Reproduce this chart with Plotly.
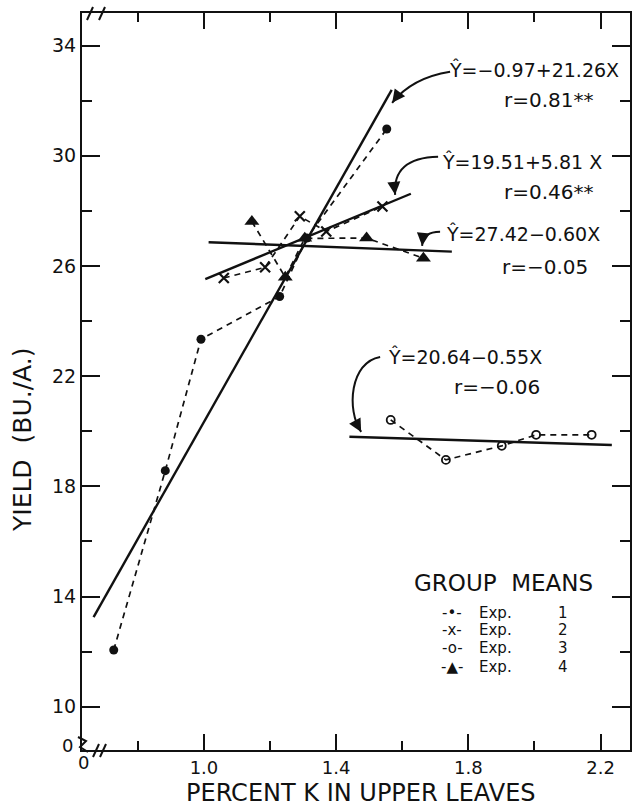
import plotly.graph_objects as go

# ---------------- data ----------------
exp1_k = [0.727, 0.883, 0.991, 1.229, 1.311, 1.553]
exp1_yield = [12.06, 18.57, 23.34, 24.89, 27.01, 30.97]

exp2_k = [1.06, 1.185, 1.29, 1.37, 1.54]
exp2_yield = [25.56, 25.95, 27.80, 27.25, 28.16]

exp3_k = [1.565, 1.732, 1.901, 2.005, 2.173]
exp3_yield = [20.41, 18.96, 19.47, 19.87, 19.87]

exp4_k = [1.145, 1.246, 1.305, 1.492, 1.664]
exp4_yield = [27.61, 25.59, 27.00, 27.01, 26.28]

# fitted regression lines (end points as drawn)
fit1_k = [0.666, 1.568]
fit1_yield = [13.25, 32.39]
fit2_k = [1.004, 1.626]
fit2_yield = [25.52, 28.62]
fit3_k = [1.44, 2.234]
fit3_yield = [19.80, 19.50]
fit4_k = [1.014, 1.75]
fit4_yield = [26.86, 26.52]

equations = ["Ŷ=−0.97+21.26X", "Ŷ=19.51+5.81 X", "Ŷ=20.64−0.55X", "Ŷ=27.42−0.60X"]
r_values = ["r=0.81**", "r=0.46**", "r=−0.06", "r=−0.05"]
legend_symbols = ["-•-", "-x-", "-o-", "-▲-"]
legend_numbers = ["1", "2", "3", "4"]

x_range = [0.631, 2.289]
y_range = [8.43, 35.18]

FONT = "DejaVu Sans"
BLACK = "#111111"

fig = go.Figure()

# regression lines
for fk, fy in [(fit1_k, fit1_yield), (fit2_k, fit2_yield), (fit3_k, fit3_yield), (fit4_k, fit4_yield)]:
    fig.add_trace(go.Scatter(x=fk, y=fy, mode="lines",
                             line=dict(color=BLACK, width=2.4), showlegend=False, hoverinfo="skip"))

dash = "6px,5px"
fig.add_trace(go.Scatter(x=exp1_k, y=exp1_yield, mode="lines+markers", name="Exp. 1",
                         line=dict(color=BLACK, width=1.7, dash=dash),
                         marker=dict(symbol="circle", size=9, color=BLACK)))
fig.add_trace(go.Scatter(x=exp2_k, y=exp2_yield, mode="lines+markers", name="Exp. 2",
                         line=dict(color=BLACK, width=1.7, dash=dash),
                         marker=dict(symbol="x-thin", size=10, line=dict(color=BLACK, width=2.2))))
fig.add_trace(go.Scatter(x=exp3_k, y=exp3_yield, mode="lines+markers", name="Exp. 3",
                         line=dict(color=BLACK, width=1.7, dash=dash),
                         marker=dict(symbol="circle-open", size=8, color=BLACK, line=dict(width=1.8, color=BLACK))))
fig.add_trace(go.Scatter(x=exp4_k, y=exp4_yield, mode="lines+markers", name="Exp. 4",
                         line=dict(color=BLACK, width=1.7, dash=dash),
                         marker=dict(symbol="triangle-up", size=13, color=BLACK)))

annotations = []
shapes = []

# equation texts
eq_pos = [(1.7357, 33.12), (1.7144, 29.78), (1.5512, 22.70), (1.7265, 27.16)]
r_pos = [(1.901, 32.03), (1.901, 28.69), (1.7507, 21.61), (1.8958, 25.97)]
for txt, (x, y) in zip(equations, eq_pos):
    annotations.append(dict(x=x, y=y, text=txt, showarrow=False, xanchor="left", yanchor="middle",
                            font=dict(family=FONT, size=19, color=BLACK)))
for txt, (x, y) in zip(r_values, r_pos):
    annotations.append(dict(x=x, y=y, text=txt, showarrow=False, xanchor="left", yanchor="middle",
                            font=dict(family=FONT, size=20, color=BLACK)))

# curved arrows (paths) + heads
curves = [
    ("M 1.7447,33.046 Q 1.6298,32.829 1.5693,31.921", (1.5693, 31.921), (6, -8)),
    ("M 1.7084,29.960 Q 1.5693,29.924 1.5784,28.580", (1.5784, 28.580), (-1, -10)),
    ("M 1.7144,27.237 Q 1.6630,27.237 1.6600,26.728", (1.6600, 26.728), (1, -10)),
    ("M 1.5330,22.698 C 1.4423,22.516 1.4302,20.773 1.4756,19.975", (1.4756, 19.975), (-5, -9)),
]
for path, (hx, hy), (ax, ay) in curves:
    shapes.append(dict(type="path", path=path, xref="x", yref="y",
                       line=dict(color=BLACK, width=2)))
    annotations.append(dict(x=hx, y=hy, ax=ax, ay=ay, text="", showarrow=True,
                            arrowhead=2, arrowsize=1.3, arrowwidth=2, arrowcolor=BLACK, standoff=0))

# legend block
annotations.append(dict(x=1.9062, y=14.49, text="GROUP  MEANS", showarrow=False,
                        xanchor="center", yanchor="middle", font=dict(family=FONT, size=23, color=BLACK)))
legend_rows_y = [13.40, 12.785, 12.13, 11.44]
for sym, num, yy in zip(legend_symbols, legend_numbers, legend_rows_y):
    annotations.append(dict(x=1.7507, y=yy, text=sym, showarrow=False, xanchor="center", yanchor="middle",
                            font=dict(family=FONT, size=15, color=BLACK)))
    annotations.append(dict(x=1.8263, y=yy, text="Exp.", showarrow=False, xanchor="left", yanchor="middle",
                            font=dict(family=FONT, size=15, color=BLACK)))
    annotations.append(dict(x=2.0863, y=yy, text=num, showarrow=False, xanchor="center", yanchor="middle",
                            font=dict(family=FONT, size=15, color=BLACK)))

# pixel helpers for decorations
L, T, W, H = 82, 13, 548, 737
def px(p):
    return (p - L) / W
def py(p):
    return (T + H - p) / H

# axis-break "0" labels
annotations.append(dict(xref="paper", yref="paper", x=px(67), y=py(745), text="0", showarrow=False,
                        xanchor="center", yanchor="middle", font=dict(family=FONT, size=18, color=BLACK)))
annotations.append(dict(xref="paper", yref="paper", x=px(83), y=py(762), text="0", showarrow=False,
                        xanchor="center", yanchor="middle", font=dict(family=FONT, size=18, color=BLACK)))

# axis titles as annotations (fixed placement)
annotations.append(dict(xref="paper", yref="paper", x=px(361), y=py(793), text="PERCENT K IN UPPER LEAVES",
                        showarrow=False, xanchor="center", yanchor="middle",
                        font=dict(family=FONT, size=24, color=BLACK)))
annotations.append(dict(xref="paper", yref="paper", x=px(22), y=py(440), text="YIELD  (BU./A.)",
                        showarrow=False, xanchor="center", yanchor="middle", textangle=-90,
                        font=dict(family=FONT, size=25, color=BLACK)))

# break marks
for x0 in (90, 102):
    shapes.append(dict(type="line", xref="paper", yref="paper", x0=px(x0 - 3), y0=py(20), x1=px(x0 + 3), y1=py(7),
                       line=dict(color=BLACK, width=2)))
for x0 in (96, 103):
    shapes.append(dict(type="line", xref="paper", yref="paper", x0=px(x0 - 3), y0=py(757), x1=px(x0 + 3), y1=py(744),
                       line=dict(color=BLACK, width=2)))
shapes.append(dict(type="path", xref="paper", yref="paper",
                   path=f"M {px(78)},{py(737)} L {px(86)},{py(741)} L {px(80)},{py(747)} L {px(88)},{py(752)}",
                   line=dict(color=BLACK, width=2)))

fig.update_layout(
    width=632, height=808,
    margin=dict(l=L, r=632 - L - W, t=T, b=808 - T - H, autoexpand=False),
    paper_bgcolor="white", plot_bgcolor="white",
    showlegend=False,
    font=dict(family=FONT, color=BLACK),
    annotations=annotations, shapes=shapes,
    xaxis=dict(range=x_range, showgrid=False, zeroline=False, showline=True, linecolor=BLACK, linewidth=2,
               mirror="ticks", ticks="inside", ticklen=16, tickwidth=2, tickcolor=BLACK,
               tick0=1.0, dtick=0.4, tickformat=".1f", automargin=False, ticklabelstandoff=0,
               minor=dict(ticks="inside", ticklen=9, tickwidth=2, tickcolor=BLACK, dtick=0.2, tick0=1.0, showgrid=False),
               tickfont=dict(family=FONT, size=18, color=BLACK)),
    yaxis=dict(range=y_range, showgrid=False, zeroline=False, showline=True, linecolor=BLACK, linewidth=2,
               mirror="ticks", ticks="inside", ticklen=18, tickwidth=2, tickcolor=BLACK,
               tick0=10, dtick=4, automargin=False, ticklabelstandoff=0,
               minor=dict(ticks="inside", ticklen=10, tickwidth=2, tickcolor=BLACK, dtick=2, tick0=10, showgrid=False),
               tickfont=dict(family=FONT, size=19, color=BLACK)),
)

fig.write_html("out.html", config={"displayModeBar": False},
               post_script="document.body.style.margin='0px';")
